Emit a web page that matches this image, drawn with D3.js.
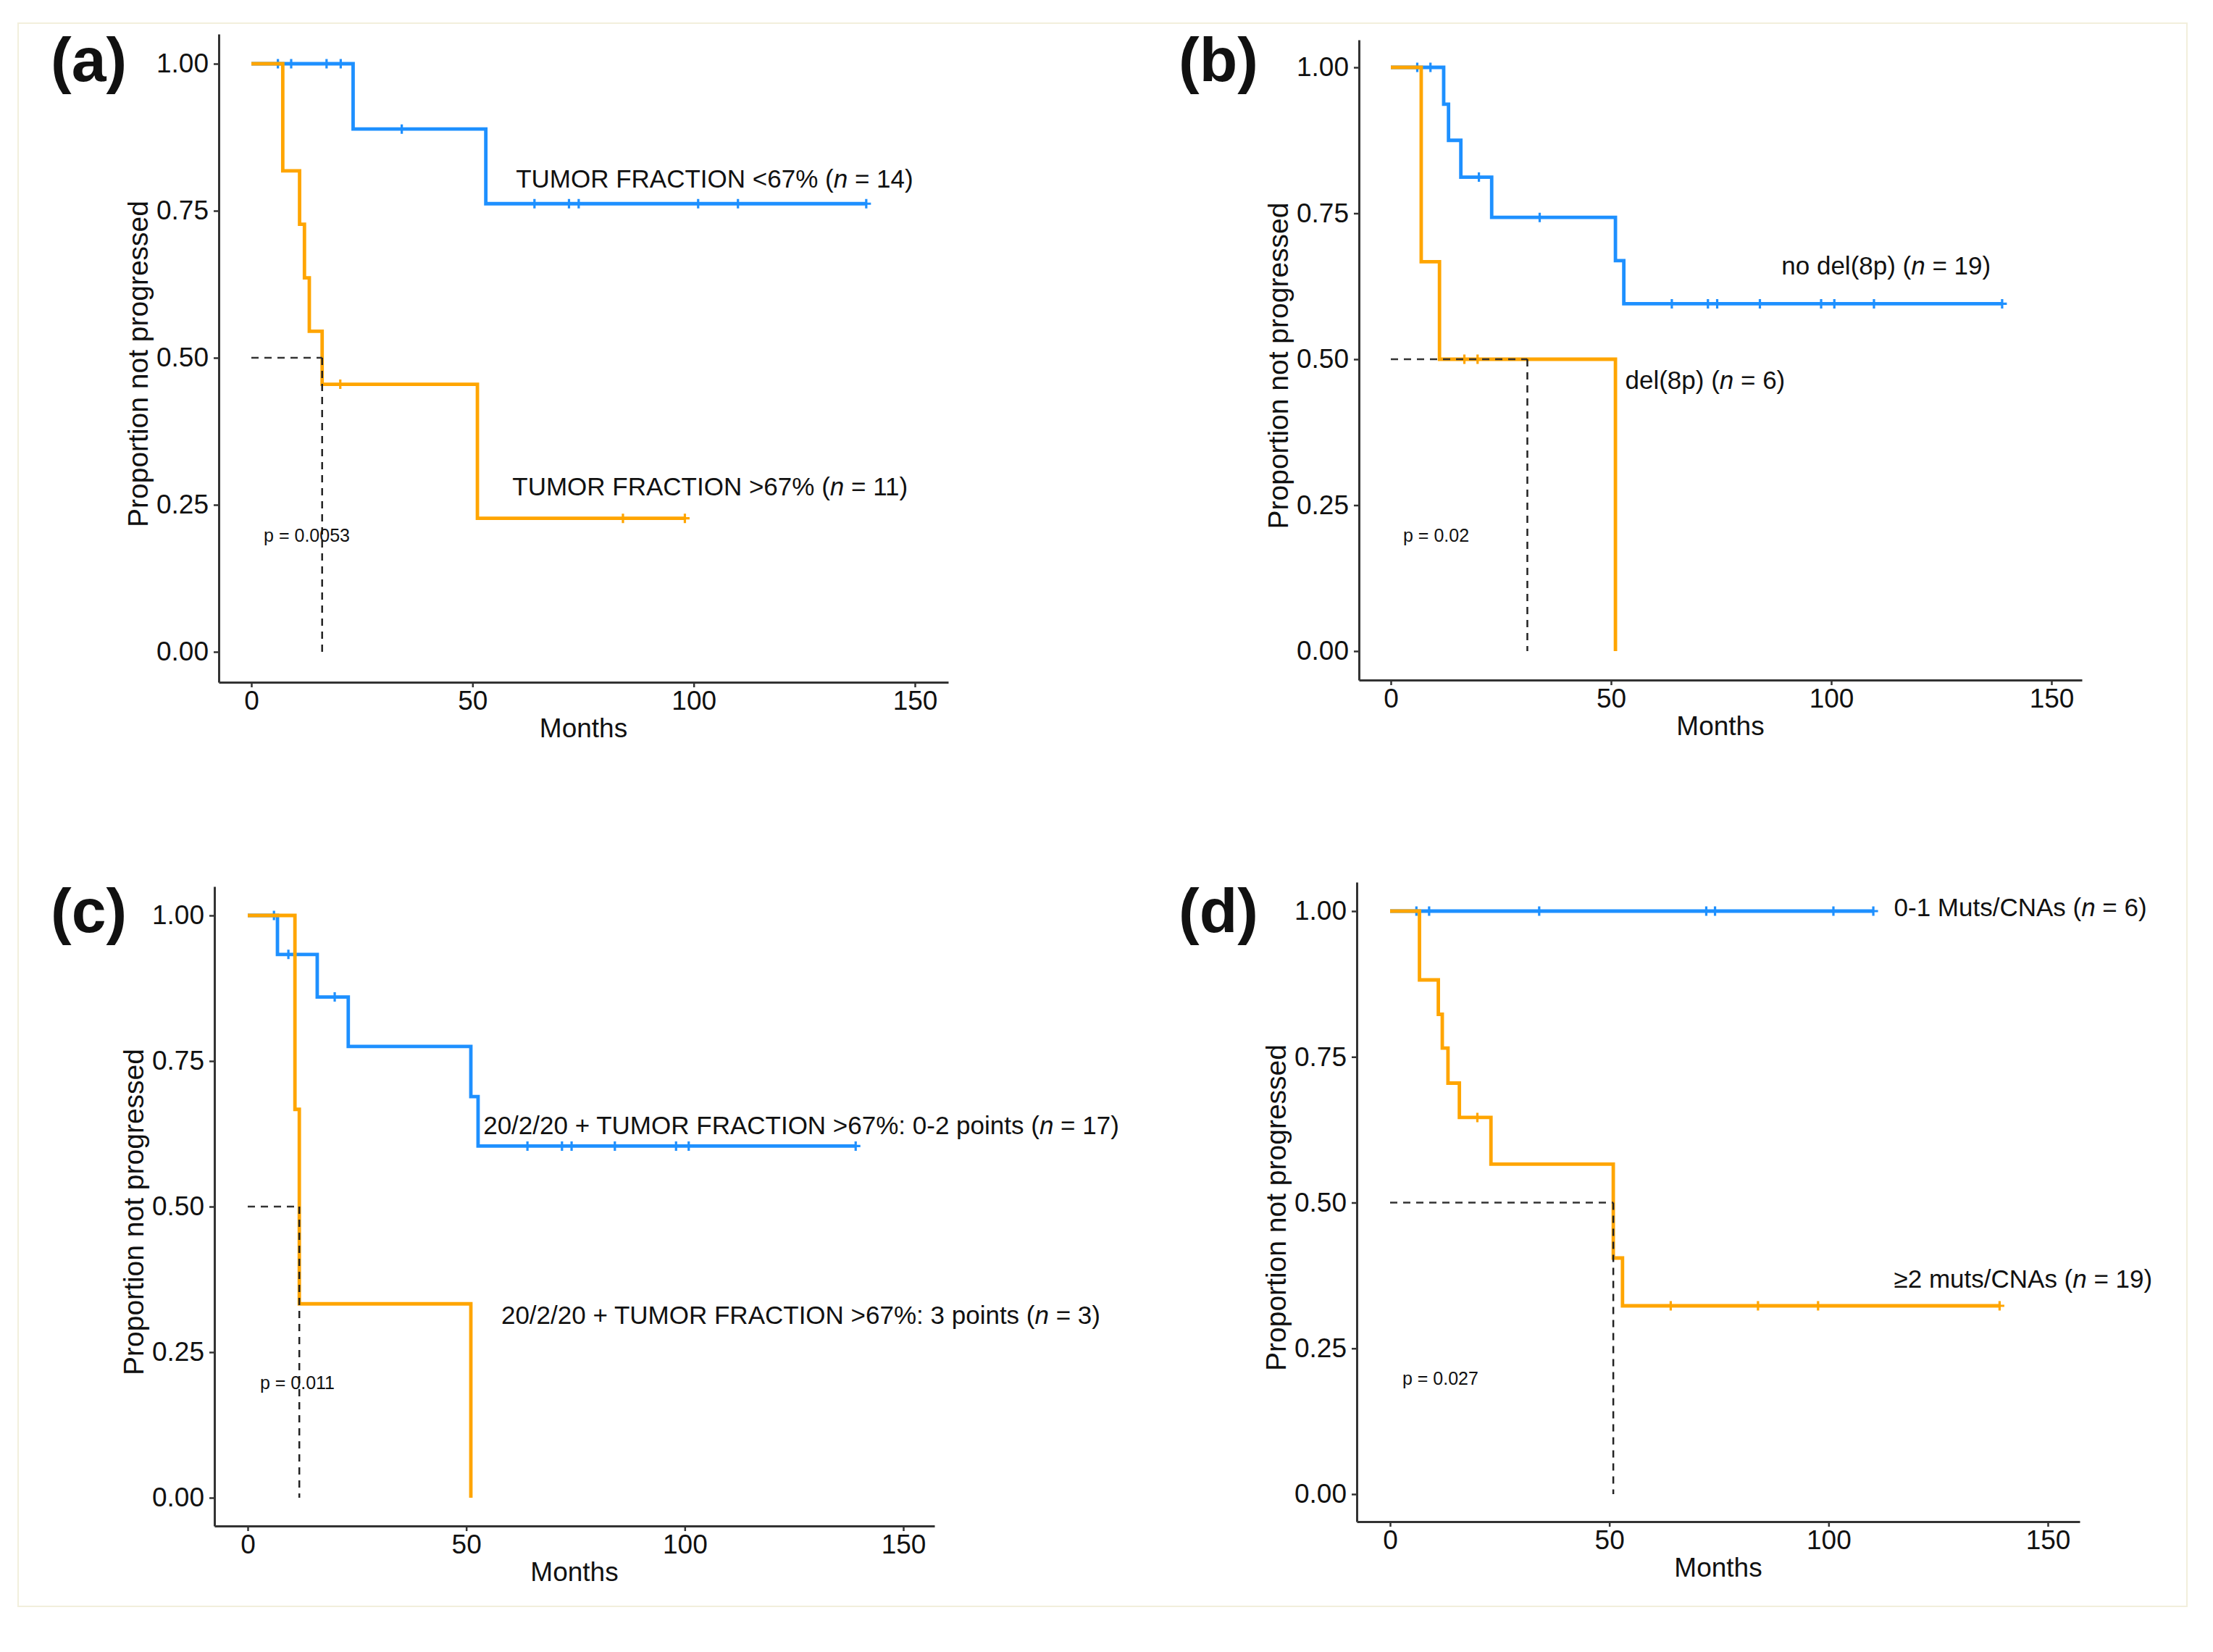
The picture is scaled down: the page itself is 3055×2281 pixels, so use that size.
<!DOCTYPE html>
<html>
<head>
<meta charset="utf-8">
<script src="https://cdn.jsdelivr.net/npm/d3@7"></script>
<style>
  body { margin: 0; background: #fff; }
  svg { display: block; }
  text { font-family: "Liberation Sans", Arial, sans-serif; fill: #111; }
</style>
</head>
<body>
<svg id="chart"></svg>
<script>
// ---- axis ticks ----
const xTicks = [0, 50, 100, 150];
const yTicks = [0, 0.25, 0.5, 0.75, 1];

// ---- (a) tumor fraction ----
const aBlueTimes = [0, 23, 53];
const aBlueSurv = [1, 0.889, 0.762];
const aBlueEnd = 139;
const aBlueCensor = [6, 9, 17, 20.2, 34, 64, 71.8, 74, 101, 110, 139];
const aOrangeTimes = [0, 7.1, 10.9, 12, 13.1, 16, 51.1];
const aOrangeSurv = [1, 0.818, 0.727, 0.636, 0.545, 0.455, 0.227];
const aOrangeEnd = 98;
const aOrangeCensor = [20.1, 84, 98];
const aMedian = 16;
const aPval = "p = 0.0053";
const aBlueLabel = ["TUMOR FRACTION <67% (", "n", " = 14)"];
const aOrangeLabel = ["TUMOR FRACTION >67% (", "n", " = 11)"];

// ---- (b) del(8p) ----
const bBlueTimes = [0, 12, 13.1, 15.9, 22.9, 51, 52.9];
const bBlueSurv = [1, 0.937, 0.875, 0.812, 0.743, 0.669, 0.595];
const bBlueEnd = 138.8;
const bBlueCensor = [6, 9, 20, 33.8, 63.8, 72, 74.1, 83.8, 97.7, 100.7, 109.7, 138.8];
const bOrangeTimes = [0, 6.9, 11.05, 51];
const bOrangeSurv = [1, 0.667, 0.5, 0];
const bOrangeEnd = 51;
const bOrangeCensor = [16.7, 19.7];
const bMedian = 31;
const bPval = "p = 0.02";
const bBlueLabel = ["no del(8p) (", "n", " = 19)"];
const bOrangeLabel = ["del(8p) (", "n", " = 6)"];

// ---- (c) 20/2/20 + tumor fraction ----
const cBlueTimes = [0, 6.8, 15.9, 23, 51.05, 52.7];
const cBlueSurv = [1, 0.933, 0.86, 0.775, 0.689, 0.604];
const cBlueEnd = 139.1;
const cBlueCensor = [6, 9.3, 19.9, 64, 71.9, 74.1, 84, 98, 100.9, 139.1];
const cOrangeTimes = [0, 10.8, 11.8, 51.05];
const cOrangeSurv = [1, 0.667, 0.333, 0];
const cOrangeEnd = 51.05;
const cOrangeCensor = [];
const cMedian = 11.8;
const cPval = "p = 0.011";
const cBlueLabel = ["20/2/20 + TUMOR FRACTION >67%: 0-2 points (", "n", " = 17)"];
const cOrangeLabel = ["20/2/20 + TUMOR FRACTION >67%: 3 points (", "n", " = 3)"];

// ---- (d) muts/CNAs ----
const dBlueTimes = [0];
const dBlueSurv = [1];
const dBlueEnd = 110.2;
const dBlueCensor = [6, 8.9, 34, 72.1, 74.1, 101.1, 110.2];
const dOrangeTimes = [0, 6.7, 11, 11.9, 13.2, 15.8, 23, 50.9, 53];
const dOrangeSurv = [1, 0.882, 0.823, 0.765, 0.705, 0.646, 0.566, 0.405, 0.323];
const dOrangeEnd = 139;
const dOrangeCensor = [19.9, 64, 83.9, 97.6, 139];
const dMedian = 50.9;
const dPval = "p = 0.027";
const dBlueLabel = ["0-1 Muts/CNAs (", "n", " = 6)"];
const dOrangeLabel = ["\u22652 muts/CNAs (", "n", " = 19)"];

const BLUE = "#1E90FF";
const ORANGE = "#FFA500";

const width = 3055, height = 2281;
const svg = d3.select("#chart").attr("width", width).attr("height", height);

svg.append("rect").attr("width", width).attr("height", height).attr("fill", "#fff");
// faint frame round the figure
svg.append("rect")
    .attr("x", 25).attr("y", 32).attr("width", 2994).attr("height", 2186)
    .attr("fill", "none").attr("stroke", "#f2efdc").attr("stroke-width", 2);

const panels = [
    { letter: "(a)", lx: 70, ly: 112, left: 302, right: 1309, top: 47, bottom: 942,
      x0: 347, x150: 1263, y0: 900, y1: 88,
      blue: { times: aBlueTimes, surv: aBlueSurv, end: aBlueEnd, censor: aBlueCensor },
      orange: { times: aOrangeTimes, surv: aOrangeSurv, end: aOrangeEnd, censor: aOrangeCensor },
      median: aMedian, pval: aPval,
      blueLabel: aBlueLabel, blueAt: [59.8, 0.79],
      orangeLabel: aOrangeLabel, orangeAt: [59, 0.266] },
    { letter: "(b)", lx: 1627, ly: 112, left: 1876, right: 2874, top: 55, bottom: 939,
      x0: 1920, x150: 2832, y0: 899, y1: 93,
      blue: { times: bBlueTimes, surv: bBlueSurv, end: bBlueEnd, censor: bBlueCensor },
      orange: { times: bOrangeTimes, surv: bOrangeSurv, end: bOrangeEnd, censor: bOrangeCensor },
      median: bMedian, pval: bPval,
      blueLabel: bBlueLabel, blueAt: [88.7, 0.645],
      orangeLabel: bOrangeLabel, orangeAt: [53.2, 0.449] },
    { letter: "(c)", lx: 70, ly: 1287, left: 296, right: 1290, top: 1224, bottom: 2107,
      x0: 342, x150: 1247, y0: 2068, y1: 1264,
      blue: { times: cBlueTimes, surv: cBlueSurv, end: cBlueEnd, censor: cBlueCensor },
      orange: { times: cOrangeTimes, surv: cOrangeSurv, end: cOrangeEnd, censor: cOrangeCensor },
      median: cMedian, pval: cPval,
      blueLabel: cBlueLabel, blueAt: [53.9, 0.624],
      orangeLabel: cOrangeLabel, orangeAt: [58, 0.299] },
    { letter: "(d)", lx: 1627, ly: 1287, left: 1873, right: 2871, top: 1218, bottom: 2101,
      x0: 1919, x150: 2827, y0: 2063, y1: 1258,
      blue: { times: dBlueTimes, surv: dBlueSurv, end: dBlueEnd, censor: dBlueCensor },
      orange: { times: dOrangeTimes, surv: dOrangeSurv, end: dOrangeEnd, censor: dOrangeCensor },
      median: dMedian, pval: dPval,
      blueLabel: dBlueLabel, blueAt: [114.9, 0.991],
      orangeLabel: dOrangeLabel, orangeAt: [114.9, 0.354] }
];

function survAt(curve, t) {
    let s = curve.surv[0];
    curve.times.forEach((tt, i) => { if (tt <= t) s = curve.surv[i]; });
    return s;
}

function addLabel(g, parts, xPos, yPos, size) {
    const t = g.append("text")
        .attr("x", xPos).attr("y", yPos)
        .attr("font-size", size + "px");
    t.append("tspan").text(parts[0]);
    t.append("tspan").attr("font-style", "italic").text(parts[1]);
    t.append("tspan").text(parts[2]);
}

function drawPanel(p) {
    const g = svg.append("g");

    const x = d3.scaleLinear().domain([0, 150]).range([p.x0, p.x150]);
    const y = d3.scaleLinear().domain([0, 1]).range([p.y0, p.y1]);
    // axis scales reach the full panel edge (ggplot expansion)
    const xa = d3.scaleLinear().domain([x.invert(p.left), x.invert(p.right)]).range([p.left, p.right]);
    const ya = d3.scaleLinear().domain([y.invert(p.bottom), y.invert(p.top)]).range([p.bottom, p.top]);

    const xAxis = g.append("g")
        .attr("transform", `translate(0,${p.bottom})`)
        .call(d3.axisBottom(xa).tickValues(xTicks).tickSize(7).tickPadding(5).tickSizeOuter(0));
    const yAxis = g.append("g")
        .attr("transform", `translate(${p.left},0)`)
        .call(d3.axisLeft(ya).tickValues(yTicks).tickFormat(d3.format(".2f")).tickSize(7).tickPadding(7).tickSizeOuter(0));

    [xAxis, yAxis].forEach(ax => {
        ax.select(".domain").attr("stroke", "#333").attr("stroke-width", 3);
        ax.selectAll(".tick line").attr("stroke", "#333").attr("stroke-width", 2.5);
        ax.selectAll(".tick text")
            .attr("font-size", "37px")
            .attr("font-family", "'Liberation Sans', Arial, sans-serif")
            .attr("fill", "#111");
    });

    g.append("text")
        .attr("x", (p.left + p.right) / 2)
        .attr("y", p.bottom + 76)
        .attr("text-anchor", "middle")
        .attr("font-size", "37px")
        .text("Months");

    g.append("text")
        .attr("transform", `translate(${p.left - 98},${(p.top + p.bottom) / 2 + 8}) rotate(-90)`)
        .attr("text-anchor", "middle")
        .attr("font-size", "39px")
        .text("Proportion not progressed");

    g.append("text")
        .attr("x", p.lx).attr("y", p.ly)
        .attr("font-size", "86px")
        .attr("font-weight", "bold")
        .text(p.letter);

    const line = d3.line()
        .x(d => x(d[0]))
        .y(d => y(d[1]))
        .curve(d3.curveStepAfter);

    [[p.blue, BLUE], [p.orange, ORANGE]].forEach(([curve, color]) => {
        const pts = curve.times.map((t, i) => [t, curve.surv[i]]);
        const lastT = curve.times[curve.times.length - 1];
        if (curve.end > lastT) pts.push([curve.end, curve.surv[curve.surv.length - 1]]);

        g.append("path")
            .attr("d", line(pts))
            .attr("fill", "none")
            .attr("stroke", color)
            .attr("stroke-width", 4.8);

        // censor marks
        curve.censor.forEach(t => {
            const cx = x(t), cy = y(survAt(curve, t));
            g.append("path")
                .attr("d", `M${cx - 6.5},${cy}H${cx + 6.5}M${cx},${cy - 6.5}V${cy + 6.5}`)
                .attr("stroke", color)
                .attr("stroke-width", 3.2);
        });
    });

    // median survival lines
    g.append("path")
        .attr("d", `M${x(0)},${y(0.5)}H${x(p.median)}`)
        .attr("stroke", "#333").attr("stroke-width", 2.5)
        .attr("stroke-dasharray", "10,8").attr("fill", "none");
    g.append("path")
        .attr("d", `M${x(p.median)},${y(0.5)}V${y(0)}`)
        .attr("stroke", "#222").attr("stroke-width", 2.5)
        .attr("stroke-dasharray", "10,8").attr("fill", "none");

    g.append("text")
        .attr("x", x(2.8)).attr("y", y(0.187))
        .attr("font-size", "25px")
        .text(p.pval);

    addLabel(g, p.blueLabel, x(p.blueAt[0]), y(p.blueAt[1]), 35);
    addLabel(g, p.orangeLabel, x(p.orangeAt[0]), y(p.orangeAt[1]), 35);
}

panels.forEach(drawPanel);
</script>
</body>
</html>
